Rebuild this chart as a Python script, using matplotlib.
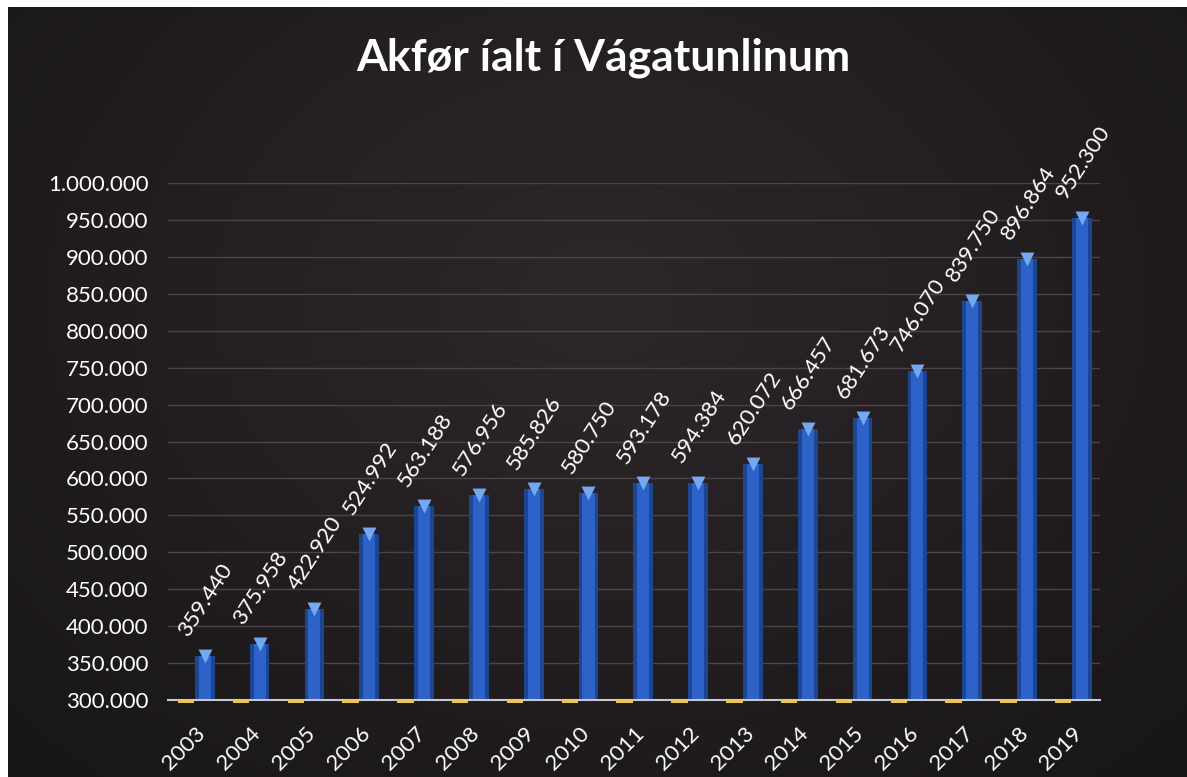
import numpy as np
import matplotlib.pyplot as plt
from matplotlib.ticker import FuncFormatter

years = ['2003', '2004', '2005', '2006', '2007', '2008', '2009', '2010', '2011',
         '2012', '2013', '2014', '2015', '2016', '2017', '2018', '2019']
akfor = [359440, 375958, 422920, 524992, 563188, 576956, 585826, 580750, 593178,
         594384, 620072, 666457, 681673, 746070, 839750, 896864, 952300]
# second (yellow) series sits right at the bottom of the axis
small_series = [302000] * len(years)

yticks = list(range(300000, 1000001, 50000))


def dots(v, pos=None):
    return '{:,.0f}'.format(v).replace(',', '.')


plt.rcParams['font.family'] = ['Lato', 'DejaVu Sans']

fig = plt.figure(figsize=(11.87, 7.77), dpi=100, facecolor='white')

# dark background with a soft glow in the upper middle
bg = fig.add_axes([8 / 1187, 0, 1 - 8 / 1187, 1 - 7 / 777])
yy, xx = np.mgrid[0:1:300j, 0:1:400j]
r = np.sqrt(((xx - 0.5) / 0.75) ** 2 + ((yy - 0.38) / 0.9) ** 2)
glow = np.clip(1 - r, 0, 1)
c_out = np.array([0x17, 0x15, 0x16]) / 255
c_in = np.array([0x2e, 0x27, 0x2b]) / 255
img = c_out + glow[..., None] * (c_in - c_out)
bg.imshow(img, aspect='auto', extent=[0, 1, 1, 0])
bg.set_axis_off()

ax = fig.add_axes([168 / 1187, 1 - 700 / 777, (1100 - 168) / 1187, (700 - 183) / 777])
ax.set_facecolor('none')

x = np.arange(len(years))
ax.bar(x - 0.17, [v - 298000 for v in small_series], width=0.3, bottom=296500,
       color='#e8c45a', zorder=6, clip_on=False)
ax.bar(x + 0.17, [v - 300000 for v in akfor], width=0.36, bottom=300000,
       color='#1c4592', zorder=3)
ax.bar(x + 0.17, [v - 300000 for v in akfor], width=0.22, bottom=300000,
       color='#2d62c8', zorder=3)
ax.scatter(x + 0.17, akfor, marker='v', s=100, color='#74a8f0', zorder=4,
           linewidths=0)

for xi, v in zip(x, akfor):
    ax.annotate(dots(v), (xi + 0.17, v), xytext=(1, 56), textcoords='offset pixels',
                rotation=57, ha='center', va='center', color='white',
                fontsize=16, rotation_mode='anchor')

ax.set_xlim(-0.5, len(years) - 0.5)
ax.set_ylim(300000, 1000000)
ax.set_yticks(yticks)
ax.yaxis.set_major_formatter(FuncFormatter(dots))
ax.set_xticks(x)
ax.set_xticklabels(years, rotation=45, ha='right', va='top', rotation_mode='anchor')
ax.tick_params(axis='both', length=0, colors='white', labelsize=16)
ax.tick_params(axis='x', pad=17)
ax.tick_params(axis='y', pad=14)
ax.grid(axis='y', color='#4a4446', linewidth=1, zorder=0)
for side in ['top', 'right', 'left']:
    ax.spines[side].set_visible(False)
ax.spines['bottom'].set_color('#c8c8d0')
ax.spines['bottom'].set_linewidth(1.5)
ax.spines['bottom'].set_zorder(5)

fig.text(0.508, 1 - 58 / 777, 'Akfør íalt í Vágatunlinum', ha='center', va='center',
         color='white', fontsize=32, fontweight='bold')

plt.savefig('out.png', dpi=100, facecolor=fig.get_facecolor())
